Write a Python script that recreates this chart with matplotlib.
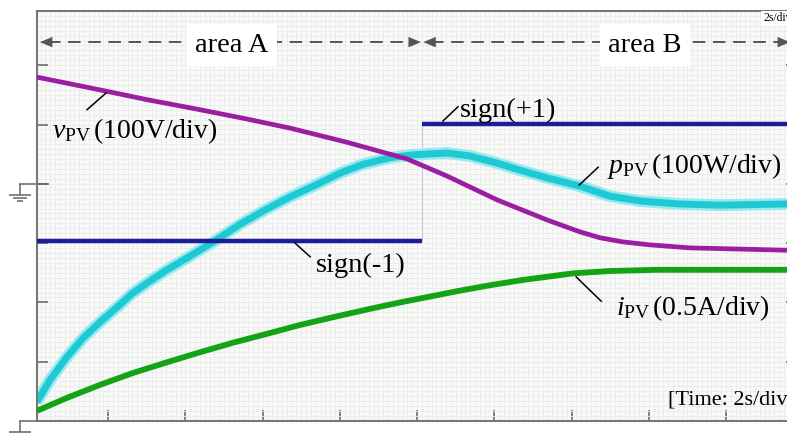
import matplotlib
matplotlib.use('Agg')
import matplotlib.pyplot as plt
from matplotlib.ticker import MultipleLocator

# --- Scope traces: time in seconds (2 s/div), amplitude in screen divisions ---
V_PV_T = [0.15, 1.97, 3.0, 4.3, 5.54, 6.71, 8.19, 9.74, 10.78, 12.07, 13.37, 14.22,
          14.74, 15.34, 16.04, 17.07, 19.6]
V_PV = [5.80, 5.56, 5.42, 5.26, 5.10, 4.94, 4.70, 4.42, 4.13, 3.73, 3.39, 3.19,
        3.09, 3.02, 2.97, 2.92, 2.88]

P_PV_T = [0.15, 0.49, 0.93, 1.35, 1.79, 2.23, 2.64, 3.08, 3.52, 4.12, 4.72, 5.42, 6.06,
          6.71, 7.31, 8.0, 8.6, 9.3, 9.9, 10.78, 11.37, 12.07, 12.67, 13.37, 14.22,
          15.0, 15.78, 16.81, 17.85, 19.6]
P_PV = [0.32, 0.69, 1.08, 1.40, 1.67, 1.92, 2.16, 2.36, 2.55, 2.78, 3.02, 3.32, 3.56,
        3.78, 3.96, 4.18, 4.33, 4.44, 4.49, 4.52, 4.47, 4.35, 4.23, 4.10, 3.96,
        3.79, 3.71, 3.66, 3.64, 3.66]

I_PV_T = [0.15, 0.93, 1.79, 2.64, 3.52, 4.38, 5.23, 6.11, 6.97, 7.82, 8.7, 9.56,
          10.34, 11.04, 11.89, 12.75, 13.45, 14.04, 15.0, 16.22, 17.85, 19.6]
I_PV = [0.17, 0.39, 0.61, 0.81, 0.99, 1.16, 1.32, 1.47, 1.62, 1.75, 1.88, 2.00,
        2.10, 2.19, 2.29, 2.38, 2.44, 2.49, 2.53, 2.55, 2.55, 2.55]

# sign output: -1 during area A, +1 during area B
SIGN_T = [0.15, 10.13, 19.85]
SIGN_LEVEL = [3.03, 5.01]

X_TICKS = [2, 4, 6, 8, 10, 12, 14, 16, 18]
Y_TICKS = [1, 2, 3, 4, 5, 6]

SERIF = 'Liberation Serif'
FRAME = '#777777'


def draw_ground(ax, t_stem, t_left, t_right, v_level):
    """Little scope ground marker hanging off the frame."""
    kw = dict(color='#666666', lw=1.1, clip_on=False, solid_capstyle='butt')
    ax.plot([t_left, t_right], [v_level, v_level], **kw)
    ax.plot([t_stem, t_stem], [v_level, v_level - 0.185], **kw)
    half = [0.29, 0.18, 0.08]
    for k, dv in enumerate([0.185, 0.236, 0.287]):
        ax.plot([t_stem - half[k], t_stem + half[k]], [v_level - dv] * 2, **kw)


def draw_span(ax, t0, t1, v, label, t_label):
    """Dashed double arrow marking one operating area."""
    ax.plot([t0 + 0.2, t1 - 0.2], [v, v], color='#555555', lw=1.4,
            dashes=(9, 5.5), zorder=6)
    for tip, tail in [(t0, t0 + 0.4), (t1, t1 - 0.4)]:
        ax.annotate('', xy=(tip, v), xytext=(tail, v),
                    arrowprops=dict(arrowstyle='-|>,head_length=0.6,head_width=0.25',
                                    mutation_scale=15, color='#555555', lw=0,
                                    shrinkA=0, shrinkB=0), zorder=6)
    ax.text(t_label, v - 0.16, label, family=SERIF, fontsize=20.5, ha='center',
            va='baseline', zorder=7,
            bbox=dict(boxstyle='square,pad=0.3', fc='white', ec='none'))


def leader(ax, t0, v0, t1, v1):
    ax.plot([t0, t1], [v0, v1], color='black', lw=1.1, zorder=8)


def main():
    plt.rcParams['mathtext.fontset'] = 'custom'
    plt.rcParams['mathtext.rm'] = SERIF
    plt.rcParams['mathtext.it'] = SERIF + ':italic'
    plt.rcParams['lines.scale_dashes'] = False

    fig = plt.figure(figsize=(7.87, 4.34), dpi=100)
    ax = fig.add_axes([37 / 787, 13 / 434, 760 / 787, 410 / 434])
    ax.set_facecolor('#f8f9f8')
    ax.set_xlim(0.155, 19.84)
    ax.set_ylim(0, 6.915)

    # fine scope graticule
    ax.xaxis.set_minor_locator(MultipleLocator(0.125))
    ax.yaxis.set_minor_locator(MultipleLocator(1 / 12))
    ax.grid(which='both', color='#e9ebe9', lw=0.6)
    ax.set_axisbelow(True)

    ax.set_xticks(X_TICKS)
    ax.set_yticks(Y_TICKS)
    ax.set_xticklabels([])
    ax.set_yticklabels([])
    ax.tick_params(which='major', direction='in', length=8, width=1.3, color=FRAME,
                   right=True)
    ax.tick_params(which='minor', length=0)
    for side in ['left', 'bottom', 'top']:
        ax.spines[side].set_color(FRAME)
        ax.spines[side].set_linewidth(1.5)
    ax.spines['right'].set_visible(False)

    # traces
    ax.plot(P_PV_T, P_PV, color='#95eaef', lw=8.5, solid_capstyle='butt',
            solid_joinstyle='round', zorder=2)
    ax.plot(P_PV_T, P_PV, color='#1fc9d3', lw=5.0, solid_capstyle='butt',
            solid_joinstyle='round', zorder=2)
    ax.plot(I_PV_T, I_PV, color='#14a314', lw=4.2, solid_capstyle='butt',
            solid_joinstyle='round', zorder=3)
    ax.plot(SIGN_T[:2], [SIGN_LEVEL[0]] * 2, color='#1c1c98', lw=3.2,
            solid_capstyle='butt', zorder=4)
    ax.plot(SIGN_T[1:], [SIGN_LEVEL[1]] * 2, color='#1c1c98', lw=3.2,
            solid_capstyle='butt', zorder=4)
    ax.plot([SIGN_T[1]] * 2, SIGN_LEVEL, color='#c4c8dc', lw=0.8, zorder=1.5)
    ax.plot(V_PV_T, V_PV, color='#9a1ea2', lw=3.4, solid_capstyle='butt',
            solid_joinstyle='round', zorder=5)

    # operating areas
    draw_span(ax, 0.23, 10.10, 6.39, 'area A', 5.21)
    draw_span(ax, 10.16, 19.66, 6.39, 'area B', 15.9)
    ax.text(18.96, 6.79, '2s/div', family=SERIF, fontsize=8.5, va='center',
            zorder=7, bbox=dict(boxstyle='square,pad=0.15', fc='white', ec='none'))

    # trace labels
    ax.text(0.54, 4.77, r'$v_{\rm PV}\,$(100V/div)', family=SERIF, fontsize=20,
            va='baseline', zorder=8)
    leader(ax, 1.45, 5.25, 1.94, 5.53)
    ax.text(11.1, 5.13, 'sign(+1)', family=SERIF, fontsize=20.5, va='baseline',
            zorder=8)
    leader(ax, 10.67, 5.06, 11.06, 5.30)
    ax.text(14.92, 4.18, r'$p_{\rm PV}\,$(100W/div)', family=SERIF, fontsize=20,
            va='baseline', zorder=8)
    leader(ax, 14.2, 3.98, 14.69, 4.28)
    ax.text(7.38, 2.51, 'sign(-1)', family=SERIF, fontsize=20.5, va='baseline',
            zorder=8)
    leader(ax, 6.84, 3.0, 7.23, 2.77)
    ax.text(15.16, 1.79, r'$i_{\rm PV}\,$(0.5A/div)', family=SERIF, fontsize=20,
            va='baseline', zorder=8)
    leader(ax, 14.12, 2.43, 14.77, 2.02)
    ax.text(16.5, 0.27, '[Time: 2s/div]', family=SERIF, fontsize=16, va='baseline',
            zorder=8)

    # channel ground markers
    draw_ground(ax, -0.285, -0.31, 0.47, 4.0)
    draw_ground(ax, -0.285, -0.31, 0.155, 0.0)

    fig.savefig('out.png', dpi=100)


if __name__ == "__main__":
    main()
